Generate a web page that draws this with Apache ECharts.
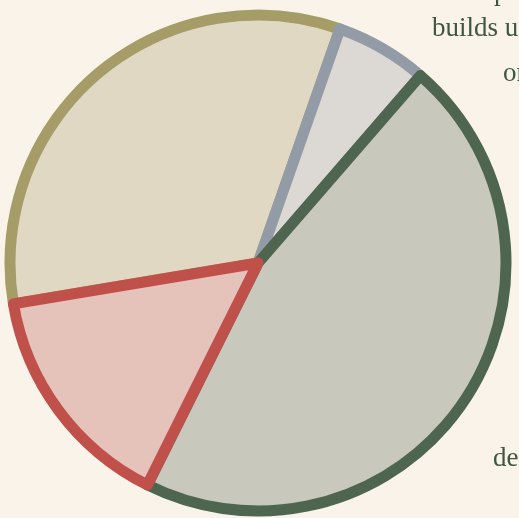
<!DOCTYPE html>
<html>
<head>
<meta charset="utf-8">
<script src="https://cdn.jsdelivr.net/npm/echarts@6/dist/echarts.min.js"></script>
<style>
html,body{margin:0;padding:0;background:#f9f3ea;}
#chart{width:519px;height:518px;}
</style>
</head>
<body>
<div id="chart"></div>
<script>
const categories = ['A', 'B', 'C', 'D'];
const values = [33, 6, 46, 15];
const fills = ['#e0d8c3', '#dcd9d4', '#c8c8bc', '#e6c3ba'];
const borders = ['#a59c68', '#939ca6', '#4e6650', '#c0504a'];
const labelLines = ['p', 'builds u', 'or', 'de'];
const labelPos = [[494, -7], [432, 29], [503, 74], [493, 459]];

const chart = echarts.init(document.getElementById('chart'));
const data = categories.map((c, i) => ({
  name: c,
  value: values[i],
  itemStyle: { color: fills[i], borderColor: borders[i], borderWidth: 11, borderJoin: 'round' }
}));
chart.setOption({
  backgroundColor: '#f9f3ea',
  animation: false,
  series: [{
    type: 'pie',
    center: [258, 263],
    radius: [0, 248],
    startAngle: 189.5,
    clockwise: true,
    label: { show: false },
    labelLine: { show: false },
    emphasis: { disabled: true },
    data: data
  }],
  graphic: labelLines.map((t, i) => ({
    type: 'text',
    x: labelPos[i][0],
    y: labelPos[i][1],
    style: {
      text: t,
      fill: '#3f5641',
      font: '27px "Liberation Serif", serif',
      verticalAlign: 'middle',
      align: 'left'
    }
  }))
});
</script>
</body>
</html>
